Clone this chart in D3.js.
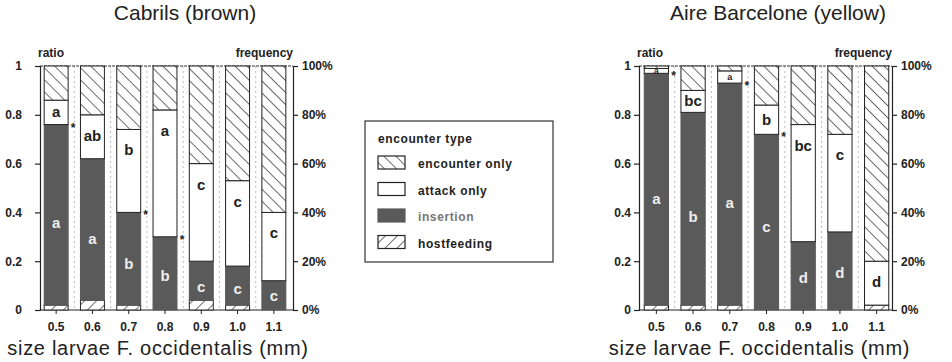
<!DOCTYPE html>
<html lang="en">
<head>
<meta charset="utf-8">
<title>encounter types</title>
<script src="https://d3js.org/d3.v7.min.js"></script>
<style>
  body { margin: 0; background: #fff; }
  svg text { font-family: "Liberation Sans", Arial, sans-serif; fill: #222; }
</style>
</head>
<body>
<script>

// larvae size classes (mm)
var sizes = ["0.5", "0.6", "0.7", "0.8", "0.9", "1.0", "1.1"];
var ratioTicks = [0, 0.2, 0.4, 0.6, 0.8, 1];

// Cabrils (brown) - segment heights, bottom to top
var cabHost      = [0.02, 0.04, 0.02, 0.00, 0.04, 0.02, 0.00];
var cabInsertion = [0.74, 0.58, 0.38, 0.30, 0.16, 0.16, 0.12];
var cabAttack    = [0.10, 0.18, 0.34, 0.52, 0.40, 0.35, 0.28];
var cabEncounter = [0.14, 0.20, 0.26, 0.18, 0.40, 0.47, 0.60];
var cabInsLetters = ["a", "a", "b", "b", "c", "c", "c"];
var cabAttLetters = ["a", "ab", "b", "a", "c", "c", "c"];
var cabStars = [true, false, true, true, false, false, false];

// Aire Barcelone (yellow)
var aireHost      = [0.02, 0.02, 0.02, 0.00, 0.00, 0.00, 0.02];
var aireInsertion = [0.95, 0.79, 0.91, 0.72, 0.28, 0.32, 0.00];
var aireAttack    = [0.02, 0.09, 0.05, 0.12, 0.48, 0.40, 0.18];
var aireEncounter = [0.01, 0.10, 0.02, 0.16, 0.24, 0.28, 0.80];
var aireInsLetters = ["a", "b", "a", "c", "d", "d", ""];
var aireAttLetters = ["a", "bc", "a", "b", "bc", "c", "d"];
var aireStars = [true, false, true, true, false, false, false];

var legendItems = ["encounter only", "attack only", "insertion", "hostfeeding"];

var width = 952, height = 362;
var dark = "#5a5a5a";

var svg = d3.select("body").append("svg")
    .attr("width", width)
    .attr("height", height);

var defs = svg.append("defs");
function hatch(id, angle) {
  var p = defs.append("pattern")
      .attr("id", id)
      .attr("patternUnits", "userSpaceOnUse")
      .attr("width", 8.5).attr("height", 8.5)
      .attr("patternTransform", "rotate(" + angle + ")");
  p.append("rect").attr("width", 8.5).attr("height", 8.5).attr("fill", "#fff");
  p.append("line").attr("x1", 0).attr("y1", 0).attr("x2", 0).attr("y2", 8.5)
      .attr("stroke", "#222").attr("stroke-width", 1.3);
}
hatch("enc", -45);
hatch("host", 45);

var y = d3.scaleLinear().domain([0, 1]).range([310, 66]);

function styleText(a) {
  a.selectAll("text").style("font-size", "12px").style("font-weight", "bold")
    .style("font-family", "Liberation Sans, Arial, sans-serif").attr("fill", "#222");
}

function panel(opt) {
  var g = svg.append("g");
  var x = d3.scaleBand().domain(sizes).range(opt.range).paddingInner(0.34).paddingOuter(0.17);
  var x0 = opt.axisL, x1 = opt.axisR;
  var gap = x.step() - x.bandwidth();

  // faint dashed separators between bars
  g.selectAll("line.sep").data(sizes.slice(1)).enter().append("line")
      .attr("x1", function(d) { return x(d) - gap / 2; })
      .attr("x2", function(d) { return x(d) - gap / 2; })
      .attr("y1", y(1)).attr("y2", y(0))
      .attr("stroke", "#aaa").attr("stroke-width", 0.8).attr("stroke-dasharray", "2,3");

  // frame lines
  g.append("line").attr("x1", x0).attr("x2", x1).attr("y1", y(1)).attr("y2", y(1))
      .attr("stroke", "#333").attr("stroke-width", 1).attr("stroke-dasharray", "3,1");
  g.append("line").attr("x1", x0).attr("x2", x1).attr("y1", y(0)).attr("y2", y(0))
      .attr("stroke", "#222").attr("stroke-width", 1.2);

  var rows = sizes.map(function(s, i) {
    var h = opt.host[i], ins = opt.ins[i], att = opt.att[i], enc = opt.enc[i];
    return {
      size: s, i: i,
      segs: [
        { k: "host", y0: 0, y1: h },
        { k: "ins", y0: h, y1: h + ins },
        { k: "att", y0: h + ins, y1: h + ins + att },
        { k: "enc", y0: h + ins + att, y1: h + ins + att + enc }
      ]
    };
  });

  var fills = { host: "url(#host)", ins: dark, att: "#fff", enc: "url(#enc)" };

  var bars = g.selectAll("g.bar").data(rows).enter().append("g").attr("class", "bar");
  bars.selectAll("rect")
      .data(function(d) { return d.segs.filter(function(s) { return s.y1 - s.y0 > 0.001; })
          .map(function(s) { s.size = d.size; return s; }); })
      .enter().append("rect")
      .attr("x", function(d) { return x(d.size); })
      .attr("width", x.bandwidth())
      .attr("y", function(d) { return y(d.y1); })
      .attr("height", function(d) { return y(d.y0) - y(d.y1); })
      .attr("fill", function(d) { return fills[d.k]; })
      .attr("stroke", function(d) { return d.k === "ins" ? dark : "#222"; })
      .attr("stroke-width", 1);

  // letters in insertion segments
  bars.append("text")
      .attr("x", function(d) { return x(d.size) + x.bandwidth() / 2; })
      .attr("y", function(d) { return y(d.segs[1].y1 * 0.47) + 5; })
      .attr("text-anchor", "middle")
      .style("font-size", "15px").style("font-weight", "bold").style("fill", "#eee")
      .text(function(d) { return opt.insL[d.i]; });

  // letters in attack segments
  bars.append("text")
      .attr("x", function(d) { return x(d.size) + x.bandwidth() / 2; })
      .attr("y", function(d) {
        var s = d.segs[2], top = y(s.y1), mid = (y(s.y0) + y(s.y1)) / 2;
        var hpx = y(s.y0) - y(s.y1);
        if (hpx < 14) return mid + 3;
        return Math.min(mid, top + 21) + 5;
      })
      .attr("text-anchor", "middle")
      .style("font-size", function(d) { return (y(d.segs[2].y0) - y(d.segs[2].y1)) < 14 ? "9px" : "15px"; })
      .style("font-weight", "bold")
      .text(function(d) { return opt.attL[d.i]; });

  // significance marks
  bars.filter(function(d) { return opt.stars[d.i]; }).append("text")
      .attr("x", function(d) { return x(d.size) + x.bandwidth() + 5; })
      .attr("y", function(d) { return y(d.segs[1].y1) + 7; })
      .attr("text-anchor", "middle")
      .style("font-size", "12px").style("font-weight", "bold")
      .text("*");

  // left ratio axis
  g.append("g").attr("transform", "translate(" + x0 + ",0)")
      .call(d3.axisLeft(y).tickValues(ratioTicks).tickSize(5).tickPadding(opt.padL)
        .tickFormat(function(d) { return d === 0 ? "0" : d === 1 ? "1" : d3.format(".1f")(d); }))
      .call(function(a) {
        styleText(a);
        a.selectAll("line,path").attr("stroke", "#222").attr("stroke-width", 1.2);
      });

  // right frequency axis
  g.append("g").attr("transform", "translate(" + x1 + ",0)")
      .call(d3.axisRight(y).tickValues(ratioTicks).tickSize(5).tickPadding(4)
        .tickFormat(d3.format(".0%")))
      .call(function(a) {
        styleText(a);
        a.selectAll("line,path").attr("stroke", "#222").attr("stroke-width", 1.2);
      });

  // size axis
  g.append("g").attr("transform", "translate(0," + y(0) + ")")
      .call(d3.axisBottom(x).tickSize(4).tickPadding(8))
      .call(function(a) {
        a.select(".domain").remove();
        styleText(a);
        a.selectAll("line").attr("stroke", "#222");
      });

  var cx = (opt.range[0] + opt.range[1]) / 2;
  g.append("text").attr("x", cx - 7).attr("y", 355).attr("text-anchor", "middle")
      .style("font-size", "20px").style("letter-spacing", "0.7px")
      .text("size larvae F. occidentalis (mm)");

  g.append("text").attr("x", x0 - 2).attr("y", 57)
      .style("font-size", "12px").style("font-weight", "bold").text("ratio");
  g.append("text").attr("x", x1).attr("y", 57).attr("text-anchor", "end")
      .style("font-size", "12px").style("font-weight", "bold").text("frequency");

  g.append("text").attr("x", opt.titleX).attr("y", 20).attr("text-anchor", "middle")
      .style("font-size", "21px").text(opt.title);
}

panel({
  title: "Cabrils (brown)", titleX: 185,
  range: [38, 292], axisL: 40, axisR: 293, padL: 13,
  host: cabHost, ins: cabInsertion, att: cabAttack, enc: cabEncounter,
  insL: cabInsLetters, attL: cabAttLetters, stars: cabStars
});
panel({
  title: "Aire Barcelone (yellow)", titleX: 778,
  range: [638, 895], axisL: 639, axisR: 892, padL: 3,
  host: aireHost, ins: aireInsertion, att: aireAttack, enc: aireEncounter,
  insL: aireInsLetters, attL: aireAttLetters, stars: aireStars
});

// legend
var lg = svg.append("g").attr("transform", "translate(365,121)");
lg.append("rect").attr("width", 188).attr("height", 141)
    .attr("fill", "#fff").attr("stroke", "#333").attr("stroke-width", 1.2);
lg.append("text").attr("x", 13).attr("y", 22)
    .style("font-size", "12px").style("font-weight", "bold").style("letter-spacing", "0.6px")
    .text("encounter type");
var swatch = ["url(#enc)", "#fff", dark, "url(#host)"];
var li = lg.selectAll("g.item").data(legendItems).enter().append("g")
    .attr("transform", function(d, i) { return "translate(13," + (42 + i * 26.5) + ")"; });
li.append("rect").attr("width", 27).attr("height", 13).attr("y", -7)
    .attr("fill", function(d, i) { return swatch[i]; })
    .attr("stroke", function(d, i) { return i === 2 ? dark : "#222"; }).attr("stroke-width", 1.2);
li.append("text").attr("x", 40).attr("y", 5)
    .style("font-size", "12px").style("font-weight", "bold").style("letter-spacing", "0.6px")
    .style("fill", function(d, i) { return i === 2 ? "#777" : "#222"; })
    .text(function(d) { return d; });

</script>
</body>
</html>
